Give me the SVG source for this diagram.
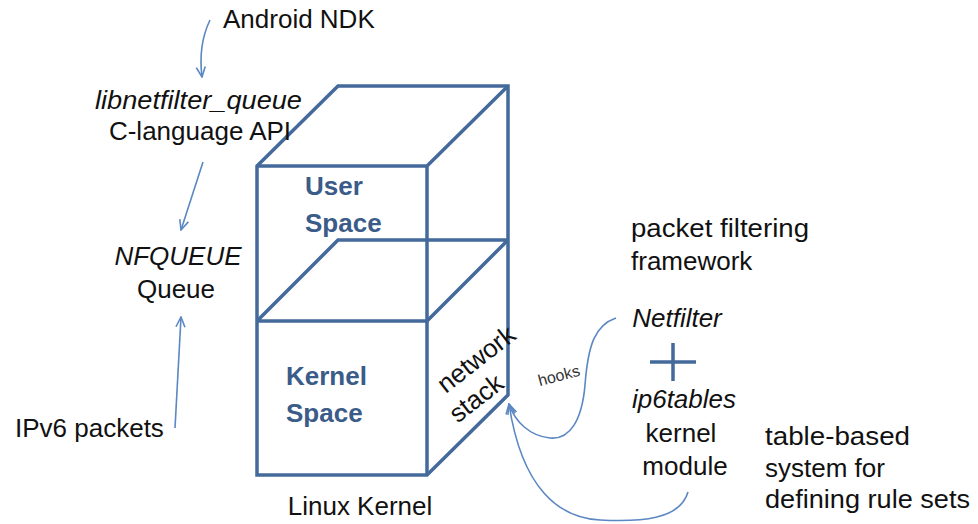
<svg xmlns="http://www.w3.org/2000/svg" width="978" height="524" viewBox="0 0 978 524">
<defs>
<style>
.t{font-family:"Liberation Sans",Arial,sans-serif;font-size:26px;fill:#111}
.i{font-style:italic}
.m{text-anchor:middle}
.b{font-weight:bold;fill:#3b5b88}
.cube{fill:none;stroke:#44699b;stroke-width:3.5;stroke-linejoin:miter}
.arr{fill:none;stroke:#5b87c3;stroke-width:1.6;marker-end:url(#ah)}
</style>
<marker id="ah" viewBox="0 0 12 12" refX="11" refY="6" markerWidth="12" markerHeight="12" markerUnits="userSpaceOnUse" orient="auto">
<path d="M1,1.5 L11,6 L1,10.5" fill="none" stroke="#5b87c3" stroke-width="1.6"/>
</marker>
</defs>
<rect width="978" height="524" fill="#fff"/>
<g id="cube">
<path class="cube" d="M257,166 L338,86 L508,86 L508,395 L427,475 L257,475 Z"/>
<path class="cube" d="M257,166 L427,166 L508,86 M427,166 L427,475"/>
<path class="cube" d="M257,321 L427,321 L508,240 M257,321 L338,240 L508,240"/>
</g>
<g id="user-space"><text class="t b" x="305" y="195">User</text><text class="t b" x="305" y="232">Space</text></g>
<g id="kernel-space"><text class="t b" x="286" y="385">Kernel</text><text class="t b" x="286" y="422">Space</text></g>
<g id="network-stack">
<text class="t m" style="font-size:26px" transform="translate(476,359) rotate(-38)" y="9">network</text>
<text class="t m" style="font-size:26px" transform="translate(476,398) rotate(-38)" y="9">stack</text>
</g>
<g id="linux-kernel"><text class="t m" x="360" y="515">Linux Kernel</text></g>
<g id="android-ndk"><text class="t" x="223" y="28">Android NDK</text></g>
<g id="libnetfilter"><text class="t i" x="95" y="109" textLength="207" lengthAdjust="spacingAndGlyphs">libnetfilter_queue</text><text class="t m" x="200" y="140">C-language API</text></g>
<g id="nfqueue"><text class="t i m" x="178" y="265">NFQUEUE</text><text class="t m" x="176" y="298">Queue</text></g>
<g id="ipv6"><text class="t" x="15" y="437">IPv6 packets</text></g>
<g id="framework"><text class="t" x="631" y="237" textLength="178" lengthAdjust="spacingAndGlyphs">packet filtering</text><text class="t" x="631" y="270">framework</text></g>
<g id="netfilter">
<text class="t i m" x="677" y="327">Netfilter</text>
<path d="M650,362 L696,362 M673,343 L673,381" stroke="#44699b" stroke-width="3.5" fill="none"/>
<text class="t i m" x="684" y="408">ip6tables</text>
<text class="t m" x="681" y="442">kernel</text>
<text class="t m" x="685" y="475">module</text>
</g>
<g id="table-based"><text class="t" x="765" y="445" textLength="145" lengthAdjust="spacingAndGlyphs">table-based</text><text class="t" x="765" y="477">system for</text><text class="t" x="765" y="508" textLength="205" lengthAdjust="spacingAndGlyphs">defining rule sets</text></g>
<g id="connectors">
<path class="arr" d="M616,318 C595,325 588,345 585,385 C582,420 570,440 550,438 C530,436 515,422 509,404"/>
<path class="arr" d="M688,492 C680,520 640,522 600,520 C560,518 522,490 509,404"/>
<path class="arr" d="M210,20 Q198,45 202,77"/>
<path class="arr" d="M203,162 L181,230"/>
<path class="arr" d="M175,428 L181,317"/>
<text x="559" y="381" transform="rotate(-15 559 376)" style="font-family:'Liberation Sans',Arial,sans-serif;font-size:16px;fill:#333;text-anchor:middle">hooks</text>
</g>
</svg>
